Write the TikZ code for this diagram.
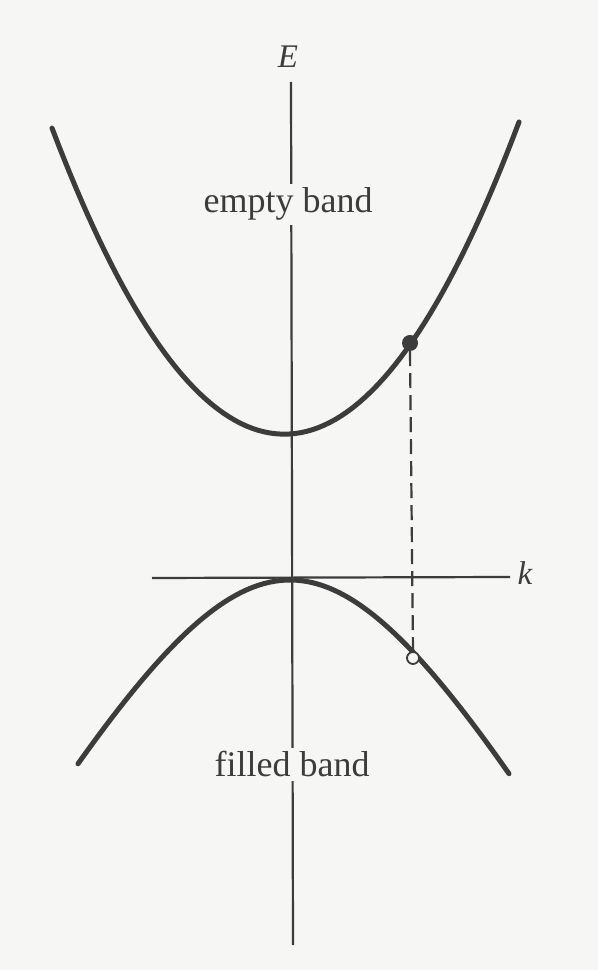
\documentclass[tikz,border=0pt]{standalone}
\usepackage{fontspec}
\setmainfont{Liberation Serif}
\definecolor{paper}{RGB}{246,246,245}
\definecolor{ink}{RGB}{60,60,60}
\definecolor{curve}{RGB}{60,60,60}
\begin{document}
\begin{tikzpicture}[x=1pt,y=1pt,
  band/.style={line width=5pt, draw=curve, line cap=round},
  axis/.style={line width=2.2pt, draw=ink},
  lbl/.style={font=\fontsize{36}{40}\selectfont, text=ink, fill=paper, inner sep=4pt, anchor=base}]
\fill[paper] (0,0) rectangle (598,970);
\useasboundingbox (0,0) rectangle (598,970);
% axes
\coordinate (Etop) at (291,888);
\coordinate (Ebot) at (293,25);
\coordinate (kleft) at (152,392);
\coordinate (kright) at (510,393);
\draw[axis] (Etop) -- (Ebot);
\draw[axis] (kleft) -- (kright);
\node[font=\fontsize{33}{36}\selectfont\itshape, text=ink, anchor=base] (E) at (288,902) {E};
\node[font=\fontsize{33}{36}\selectfont\itshape, text=ink, anchor=base] (k) at (525,385) {k};
% bands
\draw[band, domain=-238:229, samples=80] plot ({290+\x},{536+56.7*(\x/100)^2+0.064*\x});
\draw[band, domain=-212:219, samples=80] plot ({290+\x},{695-100*sqrt(9.3025+3.246*(\x/100)^2)});
\node[lbl] (empty) at (288,757) {empty band};
\node[lbl] (filled) at (292,193) {filled band};
% electron and hole
\node[circle, fill=curve, inner sep=0pt, minimum size=16pt] (elec) at (410,627) {};
\node[circle, draw=curve, line width=1.8pt, fill=paper, inner sep=0pt, minimum size=12pt] (hole) at (413,312) {};
\draw[axis, dash pattern=on 15pt off 7pt] (elec.south) -- (hole.north);
\end{tikzpicture}
\end{document}
